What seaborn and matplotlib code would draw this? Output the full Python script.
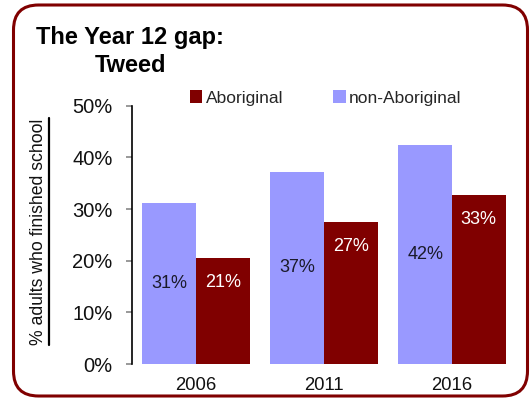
import matplotlib
matplotlib.use("Agg")
import matplotlib.pyplot as plt
import seaborn as sns
import pandas as pd
from matplotlib.patches import FancyBboxPatch
from matplotlib.lines import Line2D

# ---- data ----
years = ["2006", "2011", "2016"]
aboriginal = [20.5, 27.4, 32.7]
non_aboriginal = [31.2, 37.2, 42.3]
aboriginal_labels = ["21%", "27%", "33%"]
non_aboriginal_labels = ["31%", "37%", "42%"]
yticks = [0, 10, 20, 30, 40, 50]
ytick_labels = ["0%", "10%", "20%", "30%", "40%", "50%"]

sns.set_theme(style="white")
plt.rcParams["font.family"] = ["Liberation Sans", "DejaVu Sans"]

df = pd.DataFrame({
    "year": years * 2,
    "group": ["non-Aboriginal"] * 3 + ["Aboriginal"] * 3,
    "value": non_aboriginal + aboriginal,
})

C_AB = "#800000"
C_NON = "#9999FF"

fig = plt.figure(figsize=(5.32, 3.99), dpi=100)
ax = fig.add_axes([132 / 532, 35 / 399, 384 / 532, 258.3 / 399])

sns.barplot(data=df, x="year", y="value", hue="group",
            hue_order=["non-Aboriginal", "Aboriginal"],
            palette={"non-Aboriginal": C_NON, "Aboriginal": C_AB},
            width=0.836, gap=0, saturation=1, ax=ax, legend=True,
            edgecolor="none", linewidth=0)

ax.set_xlim(-0.5, 2.5)
ax.set_ylim(0, 50)
ax.set_yticks(yticks)
ax.set_yticklabels(ytick_labels, fontsize=14.5, color="#111111")
ax.tick_params(axis="y", length=4, width=1.2, color="#888888", pad=10, left=True)
ax.tick_params(axis="x", length=0, pad=9, labelsize=13.3, labelcolor="#111111")
ax.set_xlabel("")
for s in ["top", "right", "bottom"]:
    ax.spines[s].set_visible(False)
ax.spines["left"].set_color("black")
ax.spines["left"].set_linewidth(1.2)

# bar labels
cont_non, cont_ab = ax.containers[0], ax.containers[1]
for patch, lab in zip(cont_non, non_aboriginal_labels):
    ax.annotate(lab, (patch.get_x() + patch.get_width() / 2, patch.get_height() / 2),
                ha="center", va="center", fontsize=13, color="#1a1a2a")
for patch, lab in zip(cont_ab, aboriginal_labels):
    ax.annotate(lab, (patch.get_x() + patch.get_width() / 2, patch.get_height()),
                xytext=(0, -17.5), textcoords="offset points",
                ha="center", va="center", fontsize=13, color="white")

# legend
handles, labels = ax.get_legend_handles_labels()
hmap = dict(zip(labels, handles))
ax.legend([hmap["Aboriginal"], hmap["non-Aboriginal"]], ["Aboriginal", "non-Aboriginal"],
          loc="center left", bbox_to_anchor=(190 / 532, 1 - 98 / 399),
          bbox_transform=fig.transFigure, ncol=2, frameon=False,
          handlelength=0.7, handleheight=0.7, handletextpad=0.2,
          columnspacing=2.9, borderpad=0, borderaxespad=0,
          prop={"size": 12.5})

# y label
ax.set_ylabel("% adults who finished school", fontsize=12.7, color="#111111")
ax.yaxis.set_label_coords((47 - 132) / 384, (364 - 231.5) / 258.3)

# title
fig.text(36 / 532, 1 - 44 / 399, "The Year 12 gap:", fontsize=17, fontweight="bold",
         va="baseline", ha="left", color="black")
fig.text(95 / 532, 1 - 72 / 399, "Tweed", fontsize=17, fontweight="bold",
         va="baseline", ha="left", color="black")

# rounded border
border = FancyBboxPatch((0.135, 0.03), 5.14, 3.91,
                        boxstyle="round,pad=0,rounding_size=0.25",
                        transform=fig.dpi_scale_trans, fill=False,
                        edgecolor=C_AB, linewidth=2.2)
fig.add_artist(border)

# underline for the y label
fig.canvas.draw()
bb = ax.yaxis.label.get_window_extent()
inv = fig.transFigure.inverted()
(x0, y0), (x1, y1) = inv.transform([(bb.x1 + 2, bb.y0), (bb.x1 + 2, bb.y1)])
fig.add_artist(Line2D([x0, x0], [y0, y1], transform=fig.transFigure, color="black", linewidth=1.6))

fig.savefig("out.png", dpi=100)
